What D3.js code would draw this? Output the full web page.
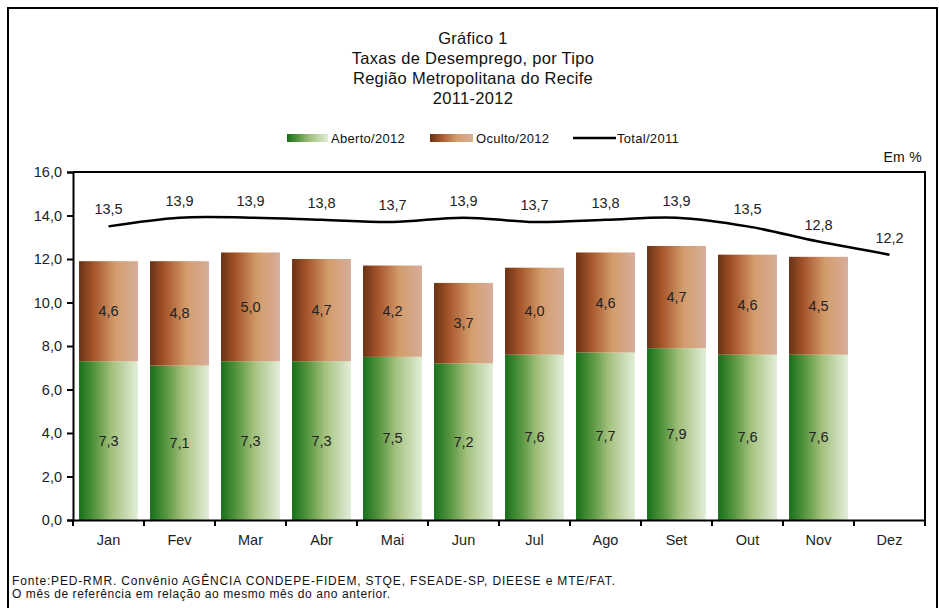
<!DOCTYPE html>
<html><head><meta charset="utf-8">
<script src="https://cdn.jsdelivr.net/npm/d3@7"></script>
<style>body{margin:0;background:#fff}svg{display:block;font-family:"Liberation Sans",Arial,sans-serif}</style>
</head><body><svg id="c" width="939" height="608"></svg>
<script>
const months = ["Jan","Fev","Mar","Abr","Mai","Jun","Jul","Ago","Set","Out","Nov","Dez"];
const aberto2012 = [7.3,7.1,7.3,7.3,7.5,7.2,7.6,7.7,7.9,7.6,7.6];
const oculto2012 = [4.6,4.8,5.0,4.7,4.2,3.7,4.0,4.6,4.7,4.6,4.5];
const total2011 = [13.5,13.9,13.9,13.8,13.7,13.9,13.7,13.8,13.9,13.5,12.8,12.2];
const yTicks = [0,2,4,6,8,10,12,14,16];
const titleLines = ["Gráfico 1","Taxas de Desemprego, por Tipo","Região Metropolitana do Recife","2011-2012"];
const notes = ["Fonte:PED-RMR. Convênio AGÊNCIA CONDEPE-FIDEM, STQE, FSEADE-SP, DIEESE e MTE/FAT.","O mês de referência em relação ao mesmo mês do ano anterior."];

const fmt = v => d3.format(".1f")(v).replace(".", ",");
const svg = d3.select("#c");
const defs = svg.append("defs");
function grad(id, stops){
  const g = defs.append("linearGradient").attr("id", id).attr("x1","0%").attr("x2","100%").attr("y1","0%").attr("y2","0%");
  stops.forEach(s => g.append("stop").attr("offset", s[0]).attr("stop-color", s[1]));
}
grad("gGreen", [["0%","#17701a"],["30%","#5e9a45"],["55%","#a2c07c"],["100%","#e2eed9"]]);
grad("gBrown", [["0%","#6a3214"],["25%","#a5552a"],["62%","#d49c6c"],["100%","#d6ae9a"]]);

// outer frame
svg.append("rect").attr("x",8).attr("y",8).attr("width",929).attr("height",612)
  .attr("fill","none").attr("stroke","#000").attr("stroke-width",2);

// title
svg.append("g").selectAll("text").data(titleLines).join("text")
  .attr("x",473).attr("y",(d,i)=>44+i*20).attr("text-anchor","middle")
  .attr("font-size",16.5).attr("letter-spacing",0.3).attr("fill","#111").text(d=>d);

const L=73, R=925, T=172, B=520;
const x = d3.scaleBand().domain(months).range([L,R]).paddingInner(0.17).paddingOuter(0.085);
const xc = d => x(d) + x.bandwidth()/2;
const y = d3.scaleLinear().domain([0,16]).range([B,T]);

// bars
const bars = svg.append("g");
aberto2012.forEach((v,i)=>{
  const m = months[i];
  bars.append("rect").attr("x",x(m)).attr("width",x.bandwidth())
    .attr("y",y(v)).attr("height",y(0)-y(v)).attr("fill","url(#gGreen)");
  const o = oculto2012[i];
  bars.append("rect").attr("x",x(m)).attr("width",x.bandwidth())
    .attr("y",y(v+o)).attr("height",y(v)-y(v+o)).attr("fill","url(#gBrown)");
  bars.append("text").attr("x",xc(m)).attr("y",y(v/2)+5).attr("text-anchor","middle")
    .attr("font-size",14.5).attr("fill","#222").text(fmt(v));
  bars.append("text").attr("x",xc(m)).attr("y",y(v+o/2)+5).attr("text-anchor","middle")
    .attr("font-size",14.5).attr("fill","#222").text(fmt(o));
});

// line
const line = d3.line().x((d,i)=>xc(months[i])).y(d=>y(d)).curve(d3.curveCardinal.tension(0));
svg.append("path").datum(total2011).attr("d",line).attr("fill","none")
  .attr("stroke","#000").attr("stroke-width",2.5);
svg.append("g").selectAll("text").data(total2011).join("text")
  .attr("x",(d,i)=>xc(months[i])).attr("y",d=>y(d)-12).attr("text-anchor","middle")
  .attr("font-size",14.5).attr("fill","#222").text(d=>fmt(d));

// plot frame (top/right)
svg.append("path").attr("d",`M${L},${T}H${R}V${B}`).attr("fill","none").attr("stroke","#000").attr("stroke-width",2);

// y axis
const ya = svg.append("g").attr("transform",`translate(${L},0)`)
  .call(d3.axisLeft(y).tickValues(yTicks).tickSize(6).tickFormat(fmt));
ya.select(".domain").attr("stroke-width",2).attr("stroke","#000");
ya.selectAll(".tick line").attr("stroke-width",2);
ya.selectAll("text").attr("font-size",14.5).attr("font-family","Liberation Sans, Arial, sans-serif").attr("fill","#222").attr("dx",-2);

// x axis
const xa = svg.append("g").attr("transform",`translate(0,${B})`)
  .call(d3.axisBottom(x).tickSize(0).tickPadding(15));
xa.select(".domain").attr("stroke-width",2).attr("stroke","#000");
xa.selectAll("text").attr("font-size",14.5).attr("font-family","Liberation Sans, Arial, sans-serif").attr("fill","#222");
xa.selectAll(".bnd").data(d3.range(months.length+1)).join("line").attr("class","bnd")
  .attr("x1",i=>L+i*(R-L)/months.length).attr("x2",i=>L+i*(R-L)/months.length)
  .attr("y1",0).attr("y2",6).attr("stroke","#000").attr("stroke-width",2);

// Em %
svg.append("text").attr("x",922).attr("y",162).attr("text-anchor","end").attr("font-size",14).attr("letter-spacing",0.3).attr("fill","#111").text("Em %");

// legend
const lg = svg.append("g").attr("font-size",13).attr("letter-spacing",0.3).attr("fill","#111");
lg.append("rect").attr("x",287).attr("y",134).attr("width",41).attr("height",8).attr("fill","url(#gGreen)");
lg.append("text").attr("x",331).attr("y",143).text("Aberto/2012");
lg.append("rect").attr("x",430).attr("y",134).attr("width",43).attr("height",8).attr("fill","url(#gBrown)");
lg.append("text").attr("x",476).attr("y",143).text("Oculto/2012");
lg.append("line").attr("x1",573).attr("x2",616).attr("y1",138).attr("y2",138).attr("stroke","#000").attr("stroke-width",2.5);
lg.append("text").attr("x",617).attr("y",143).text("Total/2011");

// notes
const noteLen = [603, 378];
svg.append("g").selectAll("text").data(notes).join("text")
  .attr("x",12).attr("y",(d,i)=>585+i*13).attr("font-size",12).attr("fill","#111")
  .attr("textLength",(d,i)=>noteLen[i]).attr("lengthAdjust","spacing").text(d=>d);
</script></body></html>
